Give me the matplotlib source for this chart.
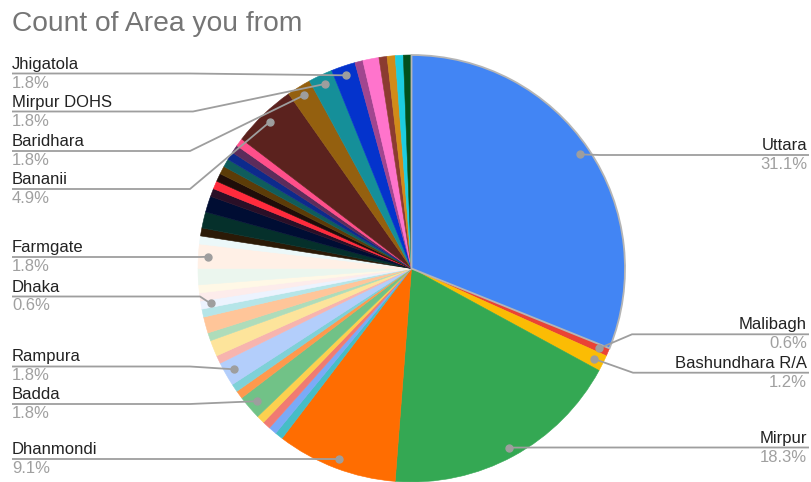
import math
import matplotlib
matplotlib.use("Agg")
import matplotlib.pyplot as plt

# ---------------- data ----------------
areas = ["Uttara", "Malibagh", "Bashundhara R/A", "Mirpur", "Dhanmondi",
         "", "", "", "", "Badda", "", "", "Rampura",
         "", "", "", "", "", "Dhaka", "", "", "", "Farmgate", "",
         "", "", "", "", "", "", "", "", "", "", "",
         "Bananii", "Baridhara", "Mirpur DOHS", "Jhigatola",
         "", "", "", "", "", ""]
counts = [51, 1, 2, 30, 15,
          1, 1, 1, 1, 3, 1, 1, 3,
          1, 2, 1, 2, 1, 1, 1, 1, 2, 3, 1,
          1, 2, 2, 1, 1, 1, 1, 1, 1, 1, 1,
          8, 3, 3, 3,
          1, 2, 1, 1, 1, 1]
colors = ["#4285f4", "#ea4335", "#fbbc04", "#34a853", "#ff6d01",
          "#46bdc6", "#7baaf7", "#f07b72", "#fcd04f", "#71c287", "#ff994d", "#7ed1d7", "#b3cefb",
          "#f7b4ae", "#fde49b", "#aedcba", "#ffc599", "#b5e5e8", "#ecf3fe", "#fdeceb", "#fff8e6",
          "#ebf6ee", "#fff0e6", "#ecf8f9",
          "#2b1a07", "#05302b", "#000d33", "#2a0f27", "#ff2b3c", "#1f0d09", "#5c3c08",
          "#0f5d5c", "#0d2a8c", "#5c2c5b", "#ff4f8a",
          "#5b221e", "#94600f", "#158f99", "#0433cc",
          "#a1468f", "#ff74cc", "#8b3b30", "#d18b19", "#1ccde0", "#024f1c"]
title = "Count of Area you from"

# labelled slices: (name, label line y in px from top, elbow x)
left_labels = [("Jhigatola", 73.5, 190), ("Mirpur DOHS", 111.5, 193),
               ("Baridhara", 151, 190), ("Bananii", 189, 190),
               ("Farmgate", 257, 200), ("Dhaka", 296.5, 200),
               ("Rampura", 366.5, 190), ("Badda", 404, 190),
               ("Dhanmondi", 459, 300)]
right_labels = [("Uttara", 155, 600), ("Malibagh", 334.3, 632),
                ("Bashundhara R/A", 372.7, 633), ("Mirpur", 447.5, 540)]

# ---------------- layout ----------------
W, H = 811, 482
CX, CY, R = 411.5, 268.5, 213.5
def Y(y):
    return H - y

fig = plt.figure(figsize=(W / 100, H / 100), dpi=100)
ax = fig.add_axes([0, 0, 1, 1])
font = "Liberation Sans"

wedges, _ = ax.pie(counts, colors=colors, startangle=90, counterclock=False,
                   center=(CX, Y(CY)), radius=R,
                   wedgeprops=dict(linewidth=0.4, antialiased=True))
for w, c in zip(wedges, colors):
    w.set_edgecolor(c)
wedges[0].set_edgecolor("#b5b5b5")
wedges[0].set_linewidth(1.3)
wedges[0].set_zorder(5)

ax.set_xlim(0, W)
ax.set_ylim(0, H)
ax.set_aspect("equal")
ax.axis("off")

total = sum(counts)
line_col = "#9e9e9e"

def dot_of(name):
    i = areas.index(name)
    w = wedges[i]
    a = math.radians((w.theta1 + w.theta2) / 2)
    rr = 0.955 * R
    return CX + rr * math.cos(a), Y(CY) + rr * math.sin(a), i

fs = 12
for name, ly, ex in left_labels:
    dx, dy, i = dot_of(name)
    ax.plot([12, ex, dx], [Y(ly), Y(ly), dy], color=line_col, lw=1.3,
            zorder=6, solid_capstyle="butt")
    ax.plot([dx], [dy], "o", color=line_col, ms=5, zorder=7)
    ax.text(12, Y(ly - 2), name, ha="left", va="bottom", fontsize=fs,
            color="#222222", family=font)
    ax.text(12, Y(ly + 2), f"{100 * counts[i] / total:.1f}%", ha="left",
            va="top", fontsize=fs, color="#a0a0a0", family=font)

for name, ly, ex in right_labels:
    dx, dy, i = dot_of(name)
    ax.plot([809, ex, dx], [Y(ly), Y(ly), dy], color=line_col, lw=1.3,
            zorder=6, solid_capstyle="butt")
    ax.plot([dx], [dy], "o", color=line_col, ms=5, zorder=7)
    ax.text(807, Y(ly - 2), name, ha="right", va="bottom", fontsize=fs,
            color="#222222", family=font)
    ax.text(807, Y(ly + 2), f"{100 * counts[i] / total:.1f}%", ha="right",
            va="top", fontsize=fs, color="#a0a0a0", family=font)

ax.text(12, Y(31), title, ha="left", va="baseline", fontsize=20.3,
        color="#757575", family=font)

fig.savefig("out.png", dpi=100, facecolor="white")
